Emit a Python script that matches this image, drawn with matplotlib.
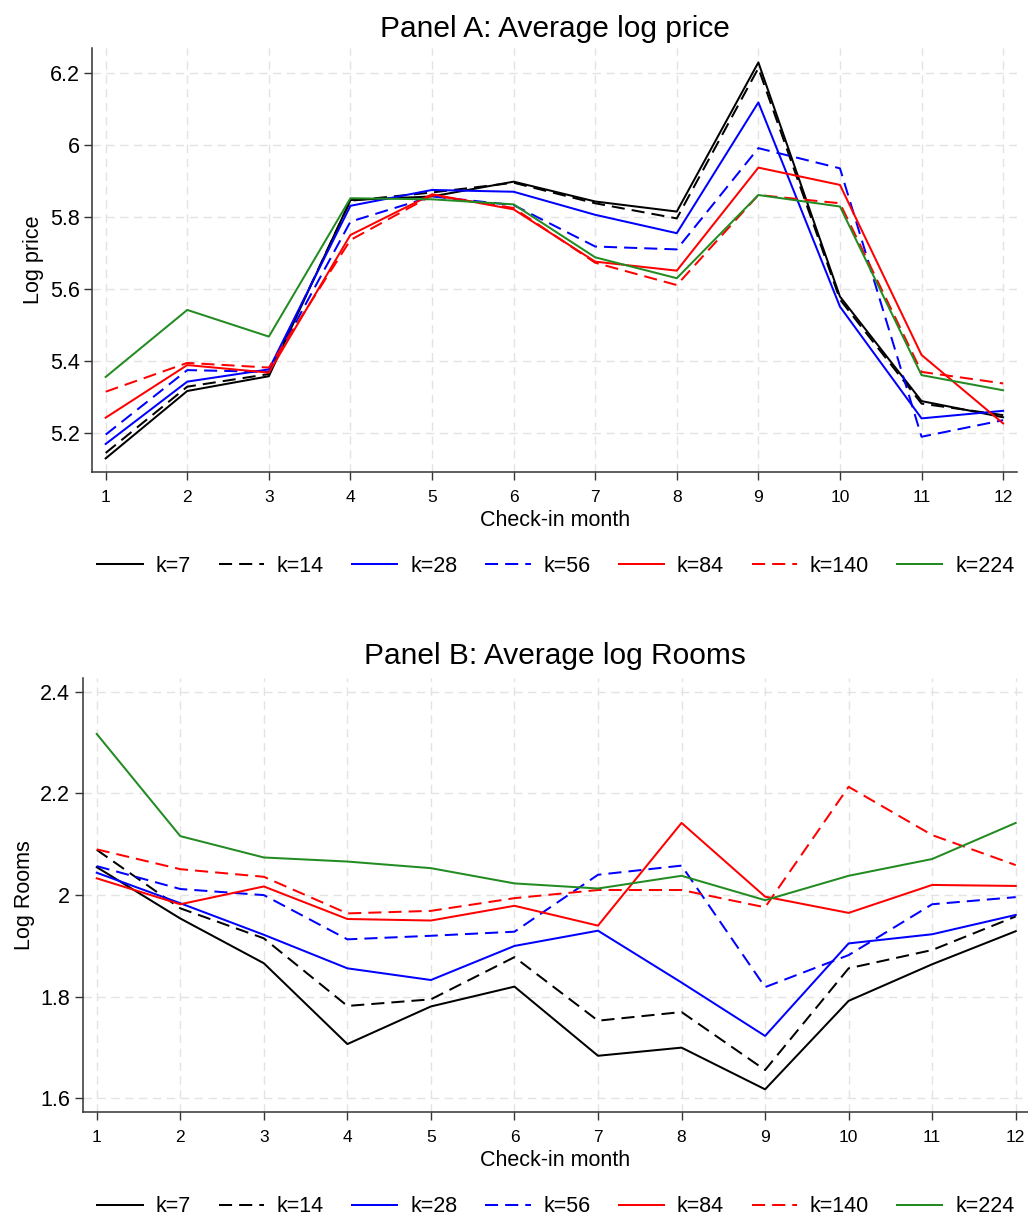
import matplotlib
matplotlib.use("Agg")
import matplotlib.pyplot as plt
from matplotlib.lines import Line2D

plt.rcParams['font.family'] = ['Liberation Sans', 'DejaVu Sans']

months = list(range(1, 13))
labels = ["k=7", "k=14", "k=28", "k=56", "k=84", "k=140", "k=224"]
colors = ["black", "black", "#0000ff", "#0000ff", "#ff0000", "#ff0000", "#228b22"]
dashed = [False, True, False, True, False, True, False]

# Panel A: average log price
price_k7   = [5.130, 5.317, 5.358, 5.847, 5.857, 5.898, 5.843, 5.815, 6.229, 5.579, 5.289, 5.244]
price_k14  = [5.145, 5.329, 5.364, 5.845, 5.868, 5.895, 5.838, 5.796, 6.213, 5.571, 5.282, 5.250]
price_k28  = [5.170, 5.343, 5.377, 5.831, 5.875, 5.870, 5.806, 5.755, 6.118, 5.551, 5.241, 5.262]
price_k56  = [5.196, 5.375, 5.370, 5.787, 5.857, 5.833, 5.718, 5.710, 5.991, 5.935, 5.190, 5.236]
price_k84  = [5.243, 5.389, 5.368, 5.750, 5.863, 5.821, 5.676, 5.651, 5.937, 5.889, 5.417, 5.227]
price_k140 = [5.315, 5.395, 5.382, 5.736, 5.860, 5.825, 5.673, 5.611, 5.861, 5.838, 5.370, 5.338]
price_k224 = [5.356, 5.542, 5.468, 5.852, 5.849, 5.835, 5.688, 5.630, 5.861, 5.829, 5.361, 5.319]

# Panel B: average log rooms
rooms_k7   = [2.055, 1.954, 1.866, 1.707, 1.781, 1.820, 1.684, 1.700, 1.618, 1.792, 1.864, 1.929]
rooms_k14  = [2.089, 1.974, 1.915, 1.782, 1.795, 1.878, 1.753, 1.770, 1.656, 1.856, 1.892, 1.958]
rooms_k28  = [2.044, 1.984, 1.922, 1.856, 1.833, 1.900, 1.930, 1.828, 1.723, 1.905, 1.923, 1.961]
rooms_k56  = [2.057, 2.012, 2.000, 1.913, 1.920, 1.928, 2.040, 2.058, 1.819, 1.882, 1.982, 1.996]
rooms_k84  = [2.033, 1.982, 2.017, 1.953, 1.950, 1.979, 1.940, 2.142, 1.997, 1.965, 2.020, 2.018]
rooms_k140 = [2.090, 2.051, 2.036, 1.964, 1.969, 1.994, 2.010, 2.010, 1.976, 2.213, 2.118, 2.059]
rooms_k224 = [2.317, 2.116, 2.074, 2.066, 2.053, 2.023, 2.013, 2.038, 1.990, 2.038, 2.071, 2.142]

price_series = [price_k7, price_k14, price_k28, price_k56, price_k84, price_k140, price_k224]
rooms_series = [rooms_k7, rooms_k14, rooms_k28, rooms_k56, rooms_k84, rooms_k140, rooms_k224]

W, H = 1028, 1218
fig = plt.figure(figsize=(W / 100, H / 100), dpi=100)

def px_axes(l, t, r, b):
    return fig.add_axes([l / W, 1 - b / H, (r - l) / W, (b - t) / H])

axA = px_axes(92.3, 48, 1017, 471.7)
axB = px_axes(82.7, 678, 1028, 1111.7)

DASH = (6.5, 3.5)
LW = 1.45

def style(ax, yticks, yticklabels, ylim, xlim, title, ylabel, title_pad):
    ax.set_xlim(*xlim)
    ax.set_ylim(*ylim)
    ax.set_xticks(months)
    ax.set_xticklabels([str(m) for m in months], fontsize=12.5)
    ax.set_yticks(yticks)
    ax.set_yticklabels(yticklabels, fontsize=15.5)
    ax.tick_params(axis='x', direction='out', length=6, width=1, pad=7, colors='#333333', labelcolor='black')
    ax.tick_params(axis='y', direction='out', length=6, width=1, pad=3, colors='#333333', labelcolor='black')
    for s in ['top', 'right']:
        ax.spines[s].set_visible(False)
    for s in ['left', 'bottom']:
        ax.spines[s].set_color('#333333')
        ax.spines[s].set_linewidth(1.1)
    ax.grid(True, color='#e3e3e3', linestyle=(0, (6, 4)), linewidth=1.0)
    ax.set_axisbelow(True)
    ax.set_xlabel("Check-in month", fontsize=15.5, labelpad=4)
    ax.set_ylabel(ylabel, fontsize=15.5, labelpad=4)
    ax.set_title(title, fontsize=21.5, pad=title_pad)

def draw(ax, series):
    for vals, c, d in zip(series, colors, dashed):
        ls = (0, DASH) if d else '-'
        ax.plot(months, vals, color=c, linestyle=ls, linewidth=LW)

draw(axA, price_series)
draw(axB, rooms_series)

style(axA, [5.2, 5.4, 5.6, 5.8, 6.0, 6.2], ["5.2", "5.4", "5.6", "5.8", "6", "6.2"],
      (5.093, 6.269), (0.836, 12.17), "Panel A: Average log price", "Log price", 8)
style(axB, [1.6, 1.8, 2.0, 2.2, 2.4], ["1.6", "1.8", "2", "2.2", "2.4"],
      (1.574, 2.427), (0.832, 12.147), "Panel B: Average log Rooms", "Log Rooms", 10)

handles = [Line2D([0], [0], color=c, linestyle=((0, DASH) if d else '-'), linewidth=LW)
           for c, d in zip(colors, dashed)]

for yc in (566, 1207):
    fig.legend(handles, labels, loc='center', bbox_to_anchor=(556 / W, 1 - yc / H),
               ncol=7, frameon=False, fontsize=15.5, handlelength=2.1,
               handletextpad=0.6, columnspacing=1.3)

fig.savefig("out.png", dpi=100)
